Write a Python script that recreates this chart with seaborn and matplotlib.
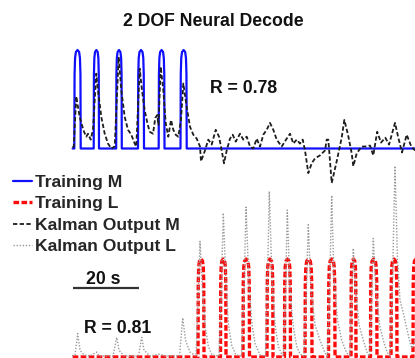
import numpy as np
import pandas as pd
import matplotlib
matplotlib.use("Agg")
import matplotlib.pyplot as plt
import seaborn as sns

# ---------------- data (time in s, amplitudes normalised to training pulse height) -------------
title = "2 DOF Neural Decode"
series_labels = ["Training M", "Training L", "Kalman Output M", "Kalman Output L"]
r_m_text = "R = 0.78"
r_l_text = "R = 0.81"
scale_bar_s = 20
scale_text = "20 s"

# training pulses: onset / offset times
m_on = [0.70, 6.58, 13.39, 20.00, 26.27, 32.88]
m_off = [2.64, 8.18, 15.09, 21.82, 28.03, 34.76]
l_on = [38.18, 45.00, 51.82, 59.09, 64.39, 70.61, 77.73, 84.55, 90.45, 96.67, 103.33]
l_off = [40.00, 46.67, 53.79, 60.91, 66.21, 72.73, 79.70, 86.06, 92.42, 98.48, 105.15]
# shape of one training pulse (fraction of its width, height)
pulse_u = [0.0, 0.04, 0.12, 0.25, 0.5, 0.75, 0.88, 0.96, 1.0]
pulse_v = [0.0, 0.75, 0.92, 0.98, 1.0, 0.98, 0.92, 0.75, 0.0]
t_first = 0.2
t_last = 105.5

# Kalman decoded output, M channel
km_t = [0.15, 0.52, 1.30, 1.82, 2.33, 2.82, 3.64, 4.33, 4.85, 5.67, 6.36, 7.36, 7.88, 8.88,
        9.91, 10.91, 11.91, 12.94, 14.15, 14.94, 15.97, 16.97, 17.97, 19.00, 19.48, 20.52,
        21.21, 22.03, 22.82, 23.55, 24.55, 25.24, 25.85, 26.21, 26.88, 27.67, 28.39, 29.18,
        30.00, 30.70, 31.42, 32.21, 33.03, 33.73, 34.76, 35.76, 36.76, 37.79, 38.79, 39.09,
        40.30, 41.30, 42.33, 43.55, 44.55, 45.36, 46.06, 46.88, 47.88, 48.70, 49.61, 50.91,
        51.91, 52.94, 53.94, 54.94, 55.97, 56.97, 57.97, 59.00, 60.00, 61.00, 62.03, 63.55,
        65.06, 66.06, 67.06, 68.09, 69.09, 69.91, 70.61, 71.61, 72.64, 73.64, 75.15, 76.67,
        77.18, 77.67, 78.70, 80.21, 81.73, 82.52, 83.64, 84.76, 85.24, 86.27, 87.79, 88.79,
        90.30, 91.30, 92.48, 93.64, 94.94, 96.06, 97.88, 98.88, 100.00, 101.42, 102.82, 103.94]
km_v = [0.01, 0.02, 0.53, 0.42, 0.32, 0.26, 0.17, 0.12, 0.15, 0.09, 0.19, 0.76, 0.59, 0.32,
        0.15, 0.05, 0.00, 0.02, 0.93, 0.59, 0.32, 0.19, 0.14, 0.05, 0.02, 0.81,
        0.59, 0.39, 0.26, 0.17, 0.15, 0.31, 0.34, 0.24, 0.83, 0.59, 0.26, 0.12,
        0.29, 0.19, 0.14, 0.12, 0.29, 0.66, 0.42, 0.22, 0.14, 0.10, 0.02, -0.13,
        -0.02, 0.09, 0.04, 0.19, 0.12, -0.02, -0.15, -0.02, 0.10, 0.14, 0.07, 0.15,
        0.09, 0.12, 0.02, 0.00, 0.10, 0.02, 0.14, 0.19, 0.26, 0.19, 0.09, 0.02,
        0.10, 0.15, 0.05, 0.09, 0.05, 0.09, -0.02, -0.25, -0.15, -0.10, -0.07, -0.02,
        0.09, 0.09, -0.35, -0.13, 0.11, 0.29, 0.14, -0.05, -0.18, -0.05, 0.02, 0.02,
        0.03, -0.07, 0.17, 0.06, 0.11, 0.04, 0.26, 0.11, -0.04, 0.14, 0.02, -0.02]

# Kalman decoded output, L channel
kl_t = [0.00, 0.91, 1.73, 2.42, 3.64, 5.45, 7.48, 8.18, 12.42, 13.55, 14.24, 15.76, 20.15,
        21.12, 21.82, 23.64, 26.67, 28.18, 32.58, 33.55, 34.39, 35.76, 37.58,
        38.18, 38.79, 39.55, 40.30, 41.30, 42.42, 44.55,
        45.15, 45.85, 46.67, 47.42, 48.39, 49.70, 51.36,
        52.12, 52.73, 53.64, 54.55, 55.45, 56.97, 58.64,
        59.24, 59.79, 60.61, 61.52, 62.52, 63.64, 64.09,
        64.70, 65.24, 66.06, 66.97, 68.09, 69.09, 70.30,
        70.91, 71.61, 72.42, 73.64, 75.15, 76.67, 77.42,
        78.03, 78.70, 79.39, 80.45, 81.73, 83.24, 84.24,
        84.70, 85.24, 86.06, 86.97, 88.27, 89.39, 90.15,
        90.76, 91.30, 92.12, 93.18, 94.33, 95.45, 96.36,
        97.12, 97.88, 98.64, 99.39, 100.39, 101.52, 102.42, 103.03, 103.94]
kl_v = [0.01, 0.02, 0.24, 0.07, 0.02, 0.01, 0.05, 0.01, 0.01, 0.20, 0.07, 0.01, 0.01,
        0.20, 0.07, 0.01, 0.03, 0.01, 0.01, 0.40, 0.17, 0.05, 0.01,
        0.58, 1.18, 0.68, 0.33, 0.11, 0.02, 0.01,
        0.58, 1.47, 0.73, 0.33, 0.12, 0.02, 0.01,
        0.68, 1.53, 0.73, 0.33, 0.14, 0.02, 0.01,
        0.79, 1.69, 0.79, 0.33, 0.11, 0.02, 0.01,
        0.68, 1.50, 0.68, 0.33, 0.11, 0.03, 0.01,
        0.58, 1.35, 0.68, 0.33, 0.17, 0.04, 0.01,
        0.68, 1.65, 0.79, 0.38, 0.17, 0.04, 0.01,
        0.58, 1.11, 0.63, 0.33, 0.17, 0.05, 0.01,
        0.58, 1.21, 0.68, 0.33, 0.17, 0.05, 0.01,
        0.79, 1.95, 0.99, 0.58, 0.45, 0.28, 0.15, 0.09, 0.17]


def pulse_train(on, off):
    t, v = [t_first], [0.0]
    for a, b in zip(on, off):
        for u, h in zip(pulse_u, pulse_v):
            t.append(a + u * (b - a))
            v.append(h)
    t.append(t_last)
    v.append(0.0)
    return np.array(t), np.array(v)


tm_t, tm_v = pulse_train(m_on, m_off)
tl_t, tl_v = pulse_train(l_on, l_off)

# ---------------- figure ----------------
sns.set_theme(style="white")
plt.rcParams['font.family'] = ['Liberation Sans', 'DejaVu Sans']
plt.rcParams['font.weight'] = 'bold'

W, H = 415, 358
fig = plt.figure(figsize=(W / 100, H / 100), dpi=100)
fig.patch.set_facecolor("white")

px_per_s = 3.3
x0_px = 72
xlim = (-x0_px / px_per_s, (W - x0_px) / px_per_s)

ax_m = fig.add_axes([0, 0, 1, 1])
ax_l = fig.add_axes([0, 0, 1, 1])
# pixel rows of baselines / pulse tops
m_base, m_amp = 148.5, 98.5
l_base, l_amp = 357.0, 98.0
ax_m.set_ylim((m_base - H) / m_amp, m_base / m_amp)
ax_l.set_ylim((l_base - H) / l_amp, l_base / l_amp)
for ax in (ax_m, ax_l):
    ax.set_xlim(*xlim)
    ax.set_axis_off()
    ax.patch.set_alpha(0)

blue = "#1010ff"
red = "#ff0a0a"

sns.lineplot(x=tm_t, y=tm_v, ax=ax_m, color=blue, lw=1.6, sort=False,
             estimator=None, label=series_labels[0], legend=False)
sns.lineplot(x=tl_t, y=tl_v, ax=ax_l, color=red, lw=2.4, sort=False,
             estimator=None, label=series_labels[1], legend=False,
             linestyle=(0, (1.7, 0.7)))
sns.lineplot(x=km_t, y=km_v, ax=ax_m, color="#1e1e1e", lw=1.3, sort=False,
             estimator=None, label=series_labels[2], legend=False,
             linestyle=(0, (2.4, 1.3)))
sns.lineplot(x=kl_t, y=kl_v, ax=ax_l, color="#9a9a9a", lw=1.0, sort=False,
             estimator=None, label=series_labels[3], legend=False,
             linestyle=(0, (1, 1.2)))

handles = ax_m.get_lines()[:1] + ax_l.get_lines()[:1] + ax_m.get_lines()[1:2] + ax_l.get_lines()[1:2]
fig.legend(handles, series_labels, loc="upper left",
           bbox_to_anchor=(13 / W, 1 - 175 / H), frameon=False,
           prop={"family": ["Liberation Sans"], "weight": "bold", "size": 12.6},
           handlelength=1.1, handletextpad=0.18, labelspacing=0.34,
           borderpad=0, borderaxespad=0)

# scale bar
ax_l.hlines((l_base - 287.7) / l_amp, 0.2, 0.2 + scale_bar_s, color="#333333", lw=1.6)

txt = dict(family=["Liberation Sans", "DejaVu Sans"], weight="bold", size=12.7,
           color="#111111", va="baseline")
fig.text(213.5 / W, 1 - 26 / H, title, ha="center", **txt)
fig.text(243.3 / W, 1 - 92.7 / H, r_m_text, ha="center", **txt)
fig.text(117.5 / W, 1 - 333.3 / H, r_l_text, ha="center", **txt)
fig.text(103 / W, 1 - 284 / H, scale_text, ha="center", **txt)

fig.savefig("out.png", dpi=100, facecolor="white")
